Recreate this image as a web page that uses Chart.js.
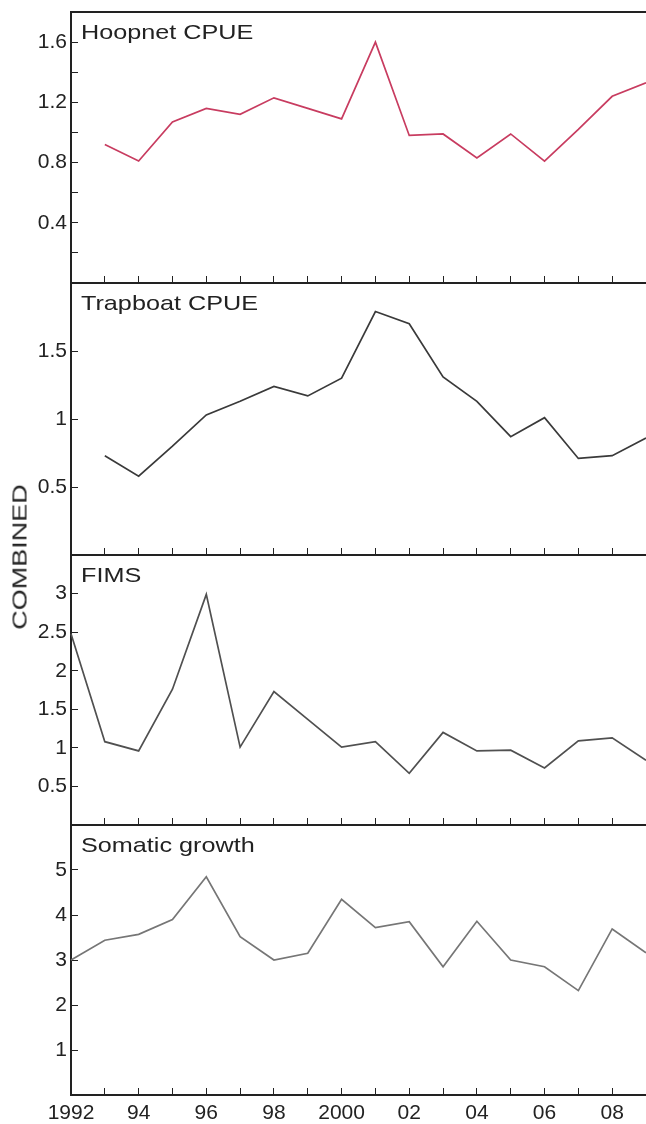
<!DOCTYPE html>
<html>
<head>
<meta charset="utf-8">
<script src="https://cdn.jsdelivr.net/npm/chart.js@4.4.0/dist/chart.umd.min.js"></script>
<style>
  html, body { margin: 0; padding: 0; background: #fff; }
  #fig { position: relative; width: 646px; height: 1124px; overflow: hidden; }
  #fig canvas { position: absolute; left: 0; }
  #ylabel {
    position: absolute; left: 20px; top: 557px;
    font: 20px "Liberation Sans", Arial, sans-serif; color: #222; white-space: nowrap;
    transform: translate(-50%, -50%) rotate(-90deg) scaleX(1.35);
  }
</style>
</head>
<body>
<div id="fig">
  <canvas id="c1"></canvas>
  <canvas id="c2"></canvas>
  <canvas id="c3"></canvas>
  <canvas id="c4"></canvas>
  <div id="ylabel">COMBINED</div>
</div>
<script>
// dados
const years = ['1992','1993','1994','1995','1996','1997','1998','1999','2000',
               '2001','2002','2003','2004','2005','2006','2007','2008','2009'];
const xTickLabels = ['1992','','94','','96','','98','','2000','','02','','04','','06','','08',''];

const hoopnet  = [null, 0.92, 0.81, 1.07, 1.16, 1.12, 1.23, 1.16, 1.09, 1.60, 0.98, 0.99, 0.83, 0.99, 0.81, 1.02, 1.24, 1.33];
const trapboat = [null, 0.73, 0.58, 0.80, 1.03, 1.13, 1.24, 1.17, 1.30, 1.79, 1.70, 1.31, 1.13, 0.87, 1.01, 0.71, 0.73, 0.86];
const fims     = [2.48, 1.08, 0.96, 1.76, 2.99, 1.01, 1.73, 1.37, 1.01, 1.08, 0.67, 1.20, 0.96, 0.97, 0.74, 1.09, 1.13, 0.84];
const somatic  = [3.00, 3.44, 3.57, 3.90, 4.85, 3.52, 3.00, 3.15, 4.35, 3.72, 3.85, 2.85, 3.86, 3.00, 2.85, 2.32, 3.69, 3.16];

const hoopnetTicks  = [0.4, 0.8, 1.2, 1.6];
const trapboatTicks = [0.5, 1, 1.5];
const fimsTicks     = [0.5, 1, 1.5, 2, 2.5, 3];
const somaticTicks  = [1, 2, 3, 4, 5];

const panels = [
  { id: 'c1', title: 'Hoopnet CPUE',   data: hoopnet,  labels: hoopnetTicks,  max: 1.8, step: 0.2, color: '#c83c60', top: 12,  bottom: 283 },
  { id: 'c2', title: 'Trapboat CPUE',  data: trapboat, labels: trapboatTicks, max: 2,   step: 0.5, color: '#3a3a3a', top: 283, bottom: 555 },
  { id: 'c3', title: 'FIMS',           data: fims,     labels: fimsTicks,     max: 3.5, step: 0.5, color: '#505050', top: 555, bottom: 825 },
  { id: 'c4', title: 'Somatic growth', data: somatic,  labels: somaticTicks,  max: 6,   step: 1,   color: '#767676', top: 825, bottom: 1095 }
];

const FONT = '"Liberation Sans", Arial, sans-serif';
const INK = '#222';

// título dentro do painel + borda superior do primeiro
const panelDecor = {
  id: 'panelDecor',
  afterDraw(chart, args, opts) {
    const { ctx, chartArea: a } = chart;
    ctx.save();
    if (opts.topBorder) {
      ctx.strokeStyle = INK;
      ctx.lineWidth = 2;
      ctx.beginPath();
      ctx.moveTo(a.left, a.top);
      ctx.lineTo(a.right, a.top);
      ctx.stroke();
    }
    ctx.fillStyle = INK;
    ctx.font = '21px ' + FONT;
    ctx.textBaseline = 'alphabetic';
    ctx.translate(a.left + 10, a.top + 27);
    ctx.scale(1.2, 1);
    ctx.fillText(opts.title, 0, 0);
    ctx.restore();
  }
};

panels.forEach((p, i) => {
  const last = i === panels.length - 1;
  const xh = last ? 29 : 12;
  const canvas = document.getElementById(p.id);
  canvas.width = 646;
  canvas.height = (p.bottom - p.top) + 12 + xh;
  canvas.style.top = (p.top - 12) + 'px';

  new Chart(canvas, {
    type: 'line',
    data: {
      labels: years,
      datasets: [{
        data: p.data,
        borderColor: p.color,
        borderWidth: 1.7,
        pointRadius: 0,
        tension: 0,
        spanGaps: false
      }]
    },
    options: {
      responsive: false,
      animation: false,
      layout: { padding: { top: 12, left: 0, right: 0, bottom: 0 } },
      plugins: {
        legend: { display: false },
        tooltip: { enabled: false },
        panelDecor: { title: p.title, topBorder: i === 0 }
      },
      scales: {
        x: {
          grid: { drawOnChartArea: false, tickLength: -7, color: INK, lineWidth: 1 },
          border: { color: INK, width: 2 },
          ticks: {
            display: last,
            autoSkip: false,
            maxRotation: 0,
            padding: 13,
            color: INK,
            font: { family: FONT, size: 21 },
            callback: (v, idx) => xTickLabels[idx]
          },
          afterFit: s => { s.height = xh; s.paddingLeft = 0; s.paddingRight = 0; }
        },
        y: {
          min: 0,
          max: p.max,
          grid: { drawOnChartArea: false, tickLength: -7, color: INK, lineWidth: 1 },
          border: { color: INK, width: 2 },
          ticks: {
            stepSize: p.step,
            autoSkip: false,
            padding: 11,
            color: INK,
            font: { family: FONT, size: 21 },
            callback: v => p.labels.some(t => Math.abs(t - v) < 1e-6) ? String(+v.toFixed(1)) : ''
          },
          afterFit: s => { s.width = 71; s.paddingTop = 0; s.paddingBottom = 0; }
        }
      }
    },
    plugins: [panelDecor]
  });
});
</script>
</body>
</html>
